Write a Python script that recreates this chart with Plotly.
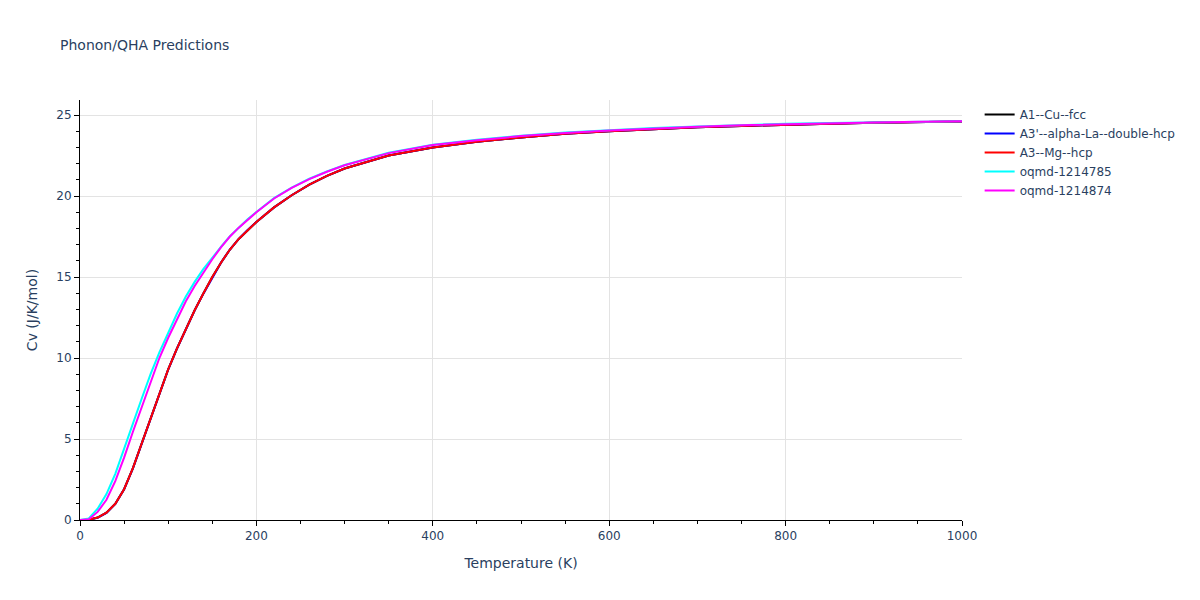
import plotly.graph_objects as go

temperature = [0, 10, 20, 30, 40, 50, 60, 70, 80, 90, 100, 110, 120, 130, 140, 150,
               160, 170, 180, 190, 200, 220, 240, 260, 280, 300, 350, 400, 450, 500,
               550, 600, 650, 700, 750, 800, 850, 900, 950, 1000]

cv_cu = [0, 0.02, 0.15, 0.45, 1.0, 1.9, 3.2, 4.75, 6.3, 7.8, 9.3, 10.6, 11.8, 12.95, 14.0, 15.0,
         15.9, 16.7, 17.35, 17.9, 18.4, 19.3, 20.05, 20.7, 21.25, 21.7, 22.5, 23.0, 23.35, 23.62,
         23.85, 24.0, 24.13, 24.24, 24.33, 24.41, 24.47, 24.52, 24.56, 24.6]
cv_la = [0, 0.02, 0.14, 0.44, 0.99, 1.89, 3.19, 4.74, 6.29, 7.79, 9.29, 10.59, 11.79, 12.94, 13.99, 14.99,
         15.9, 16.7, 17.35, 17.9, 18.4, 19.3, 20.05, 20.7, 21.25, 21.7, 22.5, 23.0, 23.35, 23.62,
         23.85, 24.0, 24.13, 24.24, 24.33, 24.41, 24.47, 24.52, 24.56, 24.6]
cv_mg = [0, 0.02, 0.15, 0.45, 1.0, 1.9, 3.2, 4.75, 6.3, 7.8, 9.3, 10.6, 11.8, 12.95, 14.0, 15.0,
         15.9, 16.7, 17.35, 17.9, 18.4, 19.3, 20.05, 20.7, 21.25, 21.7, 22.5, 23.0, 23.35, 23.62,
         23.85, 24.0, 24.13, 24.24, 24.33, 24.41, 24.47, 24.52, 24.56, 24.6]
cv_oqmd_785 = [0, 0.1, 0.7, 1.6, 2.85, 4.35, 5.95, 7.5, 9.0, 10.35, 11.6, 12.75, 13.8, 14.7, 15.5, 16.2,
               16.87, 17.52, 18.07, 18.57, 19.02, 19.87, 20.52, 21.07, 21.52, 21.92, 22.67, 23.17, 23.47, 23.72,
               23.92, 24.07, 24.2, 24.3, 24.39, 24.46, 24.51, 24.55, 24.59, 24.62]
cv_oqmd_874 = [0, 0.05, 0.5, 1.25, 2.4, 3.85, 5.45, 7.0, 8.55, 10.0, 11.25, 12.4, 13.5, 14.45, 15.3, 16.1,
               16.85, 17.5, 18.05, 18.55, 19.0, 19.85, 20.5, 21.05, 21.5, 21.9, 22.65, 23.15, 23.45, 23.7,
               23.9, 24.05, 24.18, 24.28, 24.37, 24.44, 24.5, 24.54, 24.58, 24.62]

series = [
    ("A1--Cu--fcc", cv_cu, "black"),
    ("A3'--alpha-La--double-hcp", cv_la, "blue"),
    ("A3--Mg--hcp", cv_mg, "red"),
    ("oqmd-1214785", cv_oqmd_785, "cyan"),
    ("oqmd-1214874", cv_oqmd_874, "magenta"),
]

fig = go.Figure()
for name, vals, color in series:
    fig.add_trace(go.Scatter(x=temperature, y=vals, mode="lines", name=name,
                             line=dict(color=color, width=2)))

axis_common = dict(showline=True, linecolor="black", linewidth=1, ticks="outside",
                   tickcolor="black", gridcolor="#e3e3e3", zeroline=False, automargin=False)

fig.update_layout(
    template="plotly_white",
    width=1200, height=600,
    font=dict(family="DejaVu Sans, Verdana, sans-serif", size=12),
    title=dict(text="Phonon/QHA Predictions", font=dict(size=14),
               x=52 / 1200, xanchor="left", y=1 - 37 / 600, yanchor="middle"),
    margin=dict(l=72, r=246, t=92, b=88),
    xaxis=dict(title="Temperature (K)", range=[0, 1000], dtick=200,
               minor=dict(ticks="outside", dtick=50, tickcolor="black", showgrid=False),
               **axis_common),
    yaxis=dict(title="Cv (J/K/mol)", range=[0, 25.93], dtick=5,
               minor=dict(ticks="outside", dtick=1, tickcolor="black", showgrid=False),
               **axis_common),
)

fig.write_html("out.html")
